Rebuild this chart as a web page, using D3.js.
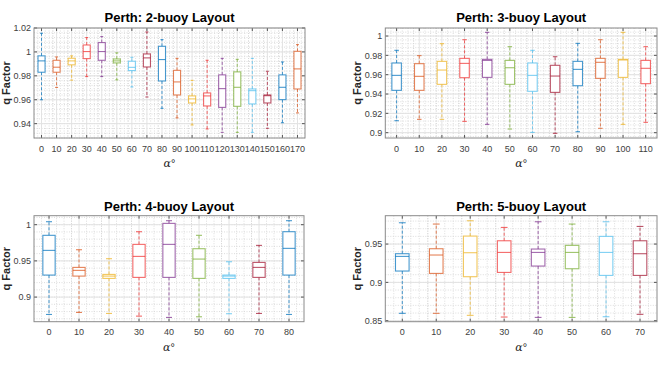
<!DOCTYPE html>
<html>
<head>
<meta charset="utf-8">
<script src="https://cdn.jsdelivr.net/npm/d3@7"></script>
<style>
  body { margin: 0; background: #fff; }
  text { font-family: "Liberation Sans", Arial, sans-serif; }
</style>
</head>
<body>
<div id="chart"></div>
<script>
const width = 664;
const height = 368;

// box stats per angle: [lower whisker, Q1, median, Q3, upper whisker]
const angles2 = [0, 10, 20, 30, 40, 50, 60, 70, 80, 90, 100, 110, 120, 130, 140, 150, 160, 170];
const stats2 = [
    [0.960, 0.983, 0.9925, 0.9967, 1.0156],
    [0.9703, 0.983, 0.9872, 0.993, 0.9958],
    [0.9764, 0.9892, 0.9925, 0.9947, 0.9967],
    [0.9794, 0.9944, 1.0003, 1.0058, 1.012],
    [0.9794, 0.993, 1.0003, 1.0078, 1.0128],
    [0.9766, 0.9908, 0.9925, 0.9941, 0.9992],
    [0.9707, 0.9844, 0.9871, 0.9922, 0.9955],
    [0.9623, 0.9874, 0.995, 0.9983, 1.0167],
    [0.9528, 0.9757, 0.9936, 1.0047, 1.0103],
    [0.9448, 0.964, 0.9749, 0.9846, 0.9946],
    [0.9389, 0.9573, 0.9607, 0.9632, 0.9762],
    [0.9356, 0.9548, 0.9632, 0.9657, 0.993],
    [0.9327, 0.9536, 0.9693, 0.9808, 0.9946],
    [0.9327, 0.9545, 0.9704, 0.9833, 0.9938],
    [0.9327, 0.9565, 0.9676, 0.969, 0.9946],
    [0.9361, 0.9573, 0.9634, 0.964, 0.9838],
    [0.9408, 0.9601, 0.9704, 0.9808, 0.9916],
    [0.949, 0.969, 0.9858, 1.0005, 1.0061]
];

const angles3 = [0, 10, 20, 30, 40, 50, 60, 70, 80, 90, 100, 110];
const stats3 = [
    [0.9124, 0.9438, 0.9593, 0.9721, 0.9852],
    [0.9138, 0.9438, 0.9583, 0.9714, 0.9797],
    [0.9138, 0.950, 0.9648, 0.9738, 0.9921],
    [0.9117, 0.9569, 0.9717, 0.9769, 0.9962],
    [0.9086, 0.9572, 0.9748, 0.9759, 1.0038],
    [0.9038, 0.950, 0.9672, 0.9748, 0.989],
    [0.9003, 0.9428, 0.9593, 0.9721, 0.9852],
    [0.8993, 0.9417, 0.9586, 0.9697, 0.9786],
    [0.901, 0.9486, 0.9655, 0.9738, 0.9924],
    [0.9045, 0.9562, 0.9728, 0.9769, 0.9962],
    [0.9086, 0.9572, 0.9752, 0.9759, 1.0038],
    [0.9107, 0.9507, 0.9666, 0.9748, 0.989]
];

const angles4 = [0, 10, 20, 30, 40, 50, 60, 70, 80];
const stats4 = [
    [0.876, 0.9304, 0.9645, 0.9853, 1.0041],
    [0.8788, 0.929, 0.9369, 0.941, 0.9654],
    [0.8774, 0.9258, 0.929, 0.9313, 0.953],
    [0.8737, 0.9272, 0.9562, 0.9728, 0.9903],
    [0.8719, 0.9272, 0.9728, 1.0018, 1.0055],
    [0.8728, 0.9258, 0.9525, 0.9668, 0.9853],
    [0.877, 0.9258, 0.929, 0.9304, 0.9488],
    [0.8774, 0.9272, 0.941, 0.9479, 0.9714],
    [0.876, 0.9304, 0.9673, 0.9903, 1.0055]
];

const angles5 = [0, 10, 20, 30, 40, 50, 60, 70];
const stats5 = [
    [0.8596, 0.9148, 0.9339, 0.9374, 0.9778],
    [0.8596, 0.9117, 0.9357, 0.9439, 0.9761],
    [0.857, 0.9074, 0.9387, 0.9604, 0.9804],
    [0.8548, 0.913, 0.9391, 0.9543, 0.9717],
    [0.8543, 0.9213, 0.9391, 0.9435, 0.9791],
    [0.8543, 0.9178, 0.9391, 0.9483, 0.9761],
    [0.8552, 0.9091, 0.9391, 0.960, 0.9791],
    [0.8583, 0.9091, 0.9374, 0.9543, 0.973]
];

const yTicks2 = [0.94, 0.96, 0.98, 1, 1.02];
const yTicks3 = [0.9, 0.92, 0.94, 0.96, 0.98, 1];
const yTicks4 = [0.9, 0.95, 1];
const yTicks5 = [0.85, 0.9, 0.95];

const colors = ["#0072BD", "#D95319", "#EDB120", "#F03030", "#7E2F8E", "#77AC30", "#4DBEEE", "#A2142F"];

const panels = [
    { title: "Perth: 2-buoy Layout", angles: angles2, stats: stats2, ticks: yTicks2,
      yDomain: [0.928, 1.02], minor: 0.004, box: { l: 34, r: 305, t: 28, b: 138 }, bw: 0.47 },
    { title: "Perth: 3-buoy Layout", angles: angles3, stats: stats3, ticks: yTicks3,
      yDomain: [0.8945, 1.0083], minor: 0.004, box: { l: 385.3, r: 657, t: 28, b: 138 }, bw: 0.42 },
    { title: "Perth: 4-buoy Layout", angles: angles4, stats: stats4, ticks: yTicks4,
      yDomain: [0.866, 1.0124], minor: 0.01, box: { l: 34, r: 304, t: 215.7, b: 321.7 }, bw: 0.41 },
    { title: "Perth: 5-buoy Layout", angles: angles5, stats: stats5, ticks: yTicks5,
      yDomain: [0.8487, 0.987], minor: 0.01, box: { l: 385.3, r: 657, t: 215.7, b: 321.7 }, bw: 0.4 }
];

const svg = d3.select("#chart")
    .append("svg")
    .attr("width", width)
    .attr("height", height);

const fmt = d => String(+d.toFixed(2));

panels.forEach(p => {
    const b = p.box;
    const g = svg.append("g");

    const x = d3.scaleBand()
        .domain(p.angles)
        .range([b.l, b.r]);
    const y = d3.scaleLinear()
        .domain(p.yDomain)
        .range([b.b, b.t]);
    const bwPx = x.bandwidth();
    const cx = a => x(a) + bwPx / 2;

    // background
    g.append("rect")
        .attr("x", b.l).attr("y", b.t)
        .attr("width", b.r - b.l).attr("height", b.b - b.t)
        .attr("fill", "#fff");

    // minor grid
    const yMinor = d3.range(Math.ceil(p.yDomain[0] / p.minor) * p.minor, p.yDomain[1], p.minor);
    g.selectAll(".ymin")
        .data(yMinor)
        .enter().append("line")
        .attr("x1", b.l).attr("x2", b.r)
        .attr("y1", d => y(d)).attr("y2", d => y(d))
        .attr("stroke", "#d4d4d4")
        .attr("stroke-width", 0.8)
        .attr("stroke-dasharray", "1,1.5");

    const xMinor = [];
    p.angles.forEach(a => {
        for (let k = 1; k < 4; k++) xMinor.push(x(a) + bwPx / 2 + k * bwPx / 4);
        xMinor.push(x(a) + bwPx / 4);
    });
    g.selectAll(".xmin")
        .data(xMinor.filter(v => v > b.l + 1 && v < b.r - 1))
        .enter().append("line")
        .attr("x1", d => d).attr("x2", d => d)
        .attr("y1", b.t).attr("y2", b.b)
        .attr("stroke", "#d4d4d4")
        .attr("stroke-width", 0.8)
        .attr("stroke-dasharray", "1,1.5");

    // major grid
    g.selectAll(".ymaj")
        .data(p.ticks)
        .enter().append("line")
        .attr("x1", b.l).attr("x2", b.r)
        .attr("y1", d => y(d)).attr("y2", d => y(d))
        .attr("stroke", "#e2e2e2");
    g.selectAll(".xmaj")
        .data(p.angles)
        .enter().append("line")
        .attr("x1", d => cx(d)).attr("x2", d => cx(d))
        .attr("y1", b.t).attr("y2", b.b)
        .attr("stroke", "#e2e2e2");

    // boxes
    const item = g.selectAll(".item")
        .data(p.stats)
        .enter().append("g")
        .attr("stroke", (d, i) => colors[i % colors.length])
        .attr("stroke-opacity", 0.72)
        .attr("fill", "none");

    const half = bwPx * p.bw / 2;
    const cap = bwPx * 0.1;

    item.append("line")
        .attr("x1", (d, i) => cx(p.angles[i])).attr("x2", (d, i) => cx(p.angles[i]))
        .attr("y1", d => y(d[3])).attr("y2", d => y(d[4]))
        .attr("stroke-width", 1)
        .attr("stroke-dasharray", "3,2");
    item.append("line")
        .attr("x1", (d, i) => cx(p.angles[i])).attr("x2", (d, i) => cx(p.angles[i]))
        .attr("y1", d => y(d[1])).attr("y2", d => y(d[0]))
        .attr("stroke-width", 1)
        .attr("stroke-dasharray", "3,2");
    item.append("line")
        .attr("x1", (d, i) => cx(p.angles[i]) - cap).attr("x2", (d, i) => cx(p.angles[i]) + cap)
        .attr("y1", d => y(d[4])).attr("y2", d => y(d[4]))
        .attr("stroke-width", 1.1);
    item.append("line")
        .attr("x1", (d, i) => cx(p.angles[i]) - cap).attr("x2", (d, i) => cx(p.angles[i]) + cap)
        .attr("y1", d => y(d[0])).attr("y2", d => y(d[0]))
        .attr("stroke-width", 1.1);
    item.append("rect")
        .attr("x", (d, i) => cx(p.angles[i]) - half)
        .attr("width", half * 2)
        .attr("y", d => y(d[3]))
        .attr("height", d => y(d[1]) - y(d[3]))
        .attr("fill", "#fff")
        .attr("stroke-width", 1.1);
    item.append("line")
        .attr("x1", (d, i) => cx(p.angles[i]) - half).attr("x2", (d, i) => cx(p.angles[i]) + half)
        .attr("y1", d => y(d[2])).attr("y2", d => y(d[2]))
        .attr("stroke-width", 1.1);

    // ticks (inside, all four sides)
    const tk = 3;
    p.ticks.forEach(t => {
        g.append("line").attr("x1", b.l).attr("x2", b.l + tk).attr("y1", y(t)).attr("y2", y(t)).attr("stroke", "#555");
        g.append("line").attr("x1", b.r).attr("x2", b.r - tk).attr("y1", y(t)).attr("y2", y(t)).attr("stroke", "#555");
    });
    p.angles.forEach(a => {
        g.append("line").attr("x1", cx(a)).attr("x2", cx(a)).attr("y1", b.b).attr("y2", b.b - tk).attr("stroke", "#555");
        g.append("line").attr("x1", cx(a)).attr("x2", cx(a)).attr("y1", b.t).attr("y2", b.t + tk).attr("stroke", "#555");
    });

    // axes frame
    g.append("rect")
        .attr("x", b.l).attr("y", b.t)
        .attr("width", b.r - b.l).attr("height", b.b - b.t)
        .attr("fill", "none")
        .attr("stroke", "#8a8a8a")
        .attr("stroke-width", 1);

    // tick labels
    g.selectAll(".ylab")
        .data(p.ticks)
        .enter().append("text")
        .attr("x", b.l - 3)
        .attr("y", d => y(d))
        .attr("dy", "0.35em")
        .attr("text-anchor", "end")
        .attr("font-size", "9px")
        .attr("fill", "#404040")
        .text(fmt);
    g.selectAll(".xlab")
        .data(p.angles)
        .enter().append("text")
        .attr("x", d => cx(d))
        .attr("y", b.b + 13.5)
        .attr("text-anchor", "middle")
        .attr("font-size", "9px")
        .attr("fill", "#404040")
        .text(d => d);

    // titles
    const mid = (b.l + b.r) / 2;
    g.append("text")
        .attr("x", mid)
        .attr("y", b.t - (b.t > 100 ? 5 : 6))
        .attr("text-anchor", "middle")
        .attr("font-size", "13px")
        .attr("font-weight", "bold")
        .attr("fill", "#000")
        .text(p.title);
    g.append("text")
        .attr("transform", `translate(${b.l - 24},${(b.t + b.b) / 2}) rotate(-90)`)
        .attr("text-anchor", "middle")
        .attr("font-size", "11px")
        .attr("font-weight", "bold")
        .attr("fill", "#262626")
        .text("q Factor");
    const xl = g.append("text")
        .attr("x", mid)
        .attr("y", b.b + 29)
        .attr("text-anchor", "middle")
        .attr("font-size", "11px")
        .attr("fill", "#262626");
    xl.append("tspan").attr("font-family", "'DejaVu Serif', serif").attr("font-style", "italic").text("α");
    xl.append("tspan").text("°");
});
</script>
</body>
</html>
